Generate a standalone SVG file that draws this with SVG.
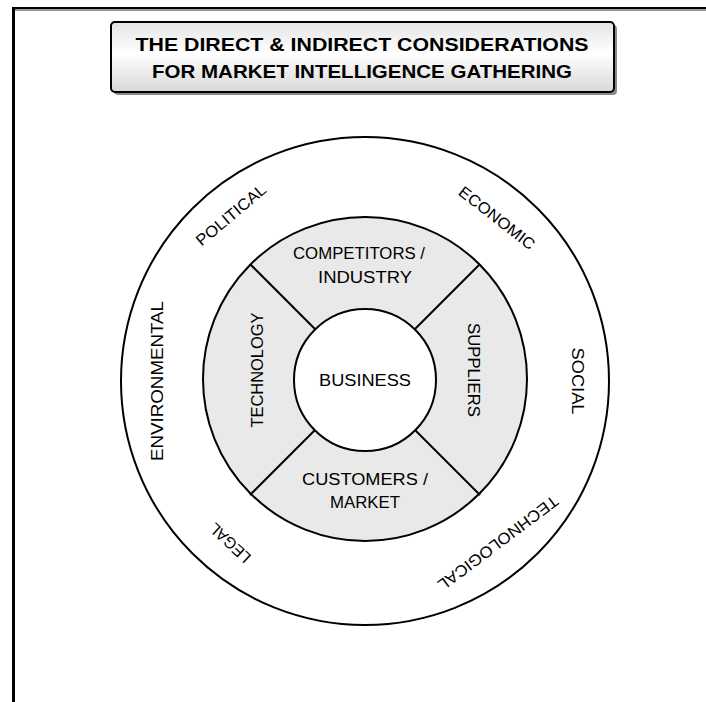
<svg xmlns="http://www.w3.org/2000/svg" width="706" height="702" viewBox="0 0 706 702">
<style>
text{font-family:"Liberation Sans","DejaVu Sans",sans-serif;font-size:16px;fill:#000;text-anchor:middle;dominant-baseline:central;}
.title{font-size:19px;font-weight:bold;}
.ring{fill:none;stroke:#000;stroke-width:2;}
.lbl{font-size:16px;}
</style>
<defs>
<linearGradient id="tg" x1="0" y1="0" x2="0" y2="1">
<stop offset="0" stop-color="#e4e4e4"/>
<stop offset="0.45" stop-color="#ffffff"/>
<stop offset="1" stop-color="#d8d8d8"/>
</linearGradient>
</defs>
<rect width="706" height="702" fill="#fff"/>
<g id="frame">
<line x1="15" y1="10" x2="706" y2="10" stroke="#9a9a9a" stroke-width="2"/>
<line x1="12" y1="8" x2="706" y2="8" stroke="#000" stroke-width="2"/>
<line x1="13.5" y1="7" x2="13.5" y2="702" stroke="#000" stroke-width="3"/>
</g>
<g id="title">
<rect x="114" y="25" width="503" height="70" rx="4" fill="#8a8a8a"/>
<rect x="111" y="22" width="503" height="70" rx="4" fill="url(#tg)" stroke="#000" stroke-width="2"/>
<text class="title" x="362" y="44" textLength="453" lengthAdjust="spacingAndGlyphs">THE DIRECT &amp; INDIRECT CONSIDERATIONS</text>
<text class="title" x="362" y="71" textLength="420" lengthAdjust="spacingAndGlyphs">FOR MARKET INTELLIGENCE GATHERING</text>
</g>
<g id="outer-ring">
<circle cx="365" cy="381" r="244" fill="#fff" stroke="#000" stroke-width="2"/>
</g>
<g id="middle-ring">
<circle cx="365" cy="379" r="162" fill="#e9e9e9" stroke="#000" stroke-width="2"/>
</g>
<g id="connectors" stroke="#000" stroke-width="2">
<line x1="315" y1="329" x2="250" y2="264"/>
<line x1="415" y1="329" x2="480" y2="264"/>
<line x1="315" y1="430" x2="250" y2="495"/>
<line x1="415" y1="430" x2="480" y2="495"/>
</g>
<g id="business">
<circle cx="365" cy="380" r="71" fill="#fff" stroke="#000" stroke-width="2"/>
<text class="lbl" x="365" y="380" textLength="92" lengthAdjust="spacingAndGlyphs">BUSINESS</text>
</g>
<g id="competitors">
<text class="lbl" x="359" y="253" textLength="132" lengthAdjust="spacingAndGlyphs">COMPETITORS /</text>
<text class="lbl" x="365" y="277" textLength="94" lengthAdjust="spacingAndGlyphs">INDUSTRY</text>
</g>
<g id="customers">
<text class="lbl" x="365" y="479" textLength="126" lengthAdjust="spacingAndGlyphs">CUSTOMERS /</text>
<text class="lbl" x="365" y="502" textLength="70" lengthAdjust="spacingAndGlyphs">MARKET</text>
</g>
<g id="technology">
<text class="lbl" transform="translate(257,370) rotate(-90)" textLength="115" lengthAdjust="spacingAndGlyphs">TECHNOLOGY</text>
</g>
<g id="suppliers">
<text class="lbl" transform="translate(473,370) rotate(90)" textLength="94" lengthAdjust="spacingAndGlyphs">SUPPLIERS</text>
</g>
<g id="political">
<text class="lbl" transform="translate(231,215) rotate(-40)" textLength="86" lengthAdjust="spacingAndGlyphs">POLITICAL</text>
</g>
<g id="economic">
<text class="lbl" transform="translate(497,218) rotate(38)" textLength="92" lengthAdjust="spacingAndGlyphs">ECONOMIC</text>
</g>
<g id="social">
<text class="lbl" transform="translate(577,381) rotate(90)" textLength="67" lengthAdjust="spacingAndGlyphs">SOCIAL</text>
</g>
<g id="environmental">
<text class="lbl" transform="translate(157,381) rotate(-90)" textLength="160" lengthAdjust="spacingAndGlyphs">ENVIRONMENTAL</text>
</g>
<g id="legal">
<text class="lbl" transform="translate(230,543) rotate(-137)" textLength="50" lengthAdjust="spacingAndGlyphs">LEGAL</text>
</g>
<g id="technological">
<text class="lbl" transform="translate(498,543) rotate(143)" textLength="146" lengthAdjust="spacingAndGlyphs">TECHNOLOGICAL</text>
</g>
</svg>
